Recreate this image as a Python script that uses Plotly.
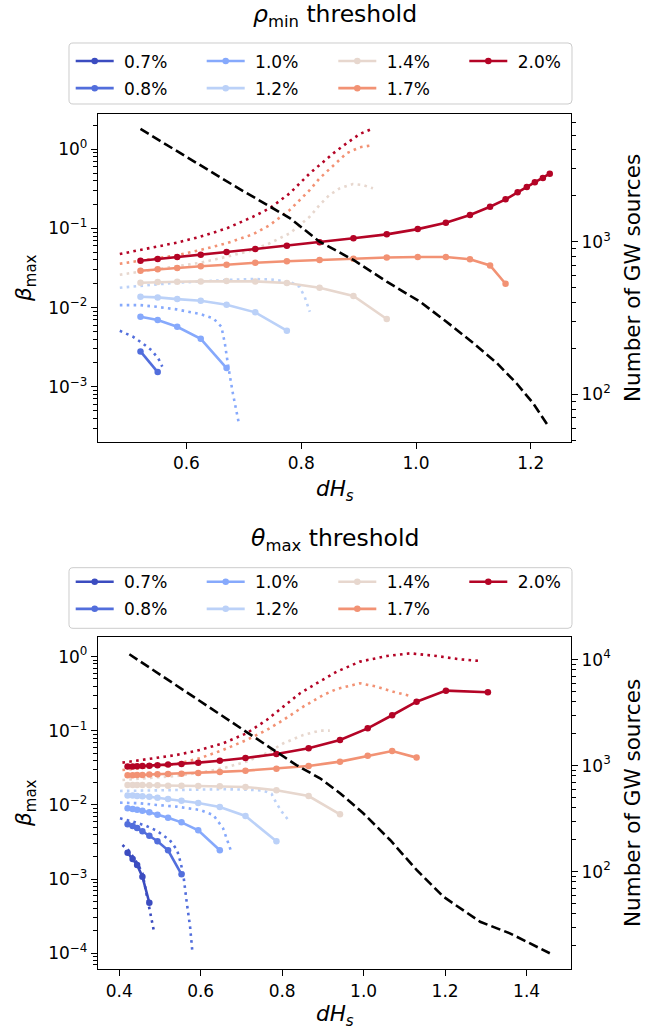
import plotly.graph_objects as go

# ---------------------------------------------------------------- data
THRESHOLDS = ["0.7%", "0.8%", "1.0%", "1.2%", "1.4%", "1.7%", "2.0%"]
# coolwarm sampled at (threshold - 0.7) / 1.3
COLORS = ["#3b4cc0", "#526edc", "#86a9fc", "#bbd1f8", "#e7d7ce", "#f29274", "#b40426"]

# --- rho_min threshold panel -------------------------------------------
rho_dh = [0.520, 0.550, 0.584, 0.625, 0.670, 0.720, 0.775, 0.832, 0.891, 0.949,
          1.003, 1.052, 1.094, 1.129, 1.156, 1.177, 1.193, 1.207, 1.221, 1.233]
rho_beta_07 = [None]
rho_beta_08 = [0.00279, 0.00153]
rho_beta_10 = [0.00765, 0.00695, 0.00572, 0.00403, 0.00172]
rho_beta_12 = [0.0137, 0.01345, 0.0128, 0.0122, 0.01084, 0.0087, 0.0051]
rho_beta_14 = [0.0206, 0.0210, 0.0212, 0.0214, 0.0216, 0.0214, 0.0204, 0.0178, 0.0140, 0.00716]
rho_beta_17 = [0.0292, 0.0304, 0.0316, 0.0332, 0.0348, 0.0369, 0.0384, 0.0398, 0.0414, 0.0430,
               0.0435, 0.0435, 0.0407, 0.0341, 0.0200]
rho_beta_20 = [0.0391, 0.0410, 0.0435, 0.0466, 0.0503, 0.0550, 0.0604, 0.0667, 0.0750, 0.0842,
               0.0980, 0.118, 0.148, 0.188, 0.233, 0.286, 0.334, 0.382, 0.434, 0.492]

# dotted curves
rho_cx_07, rho_cy_07 = [], []
rho_cx_08 = [0.484, 0.507, 0.524, 0.539, 0.551, 0.558]
rho_cy_08 = [0.00509, 0.00428, 0.00352, 0.00290, 0.00228, 0.00179]
rho_cx_10 = [0.484, 0.519, 0.548, 0.583, 0.624, 0.647, 0.661, 0.667, 0.673, 0.681, 0.692]
rho_cy_10 = [0.01075, 0.01075, 0.01023, 0.00948, 0.00828, 0.0073, 0.00572, 0.00352, 0.00179,
             0.00082, 0.000327]
rho_cx_12 = [0.484, 0.519, 0.548, 0.583, 0.624, 0.670, 0.716, 0.745, 0.780, 0.797, 0.806, 0.815]
rho_cy_12 = [0.0178, 0.0189, 0.0196, 0.0206, 0.0216, 0.0223, 0.0229, 0.0227, 0.0212, 0.0183,
             0.0137, 0.00885]
rho_cx_14 = [0.484, 0.519, 0.548, 0.583, 0.624, 0.670, 0.716, 0.745, 0.780, 0.815, 0.832, 0.849,
             0.867, 0.890, 0.907, 0.925]
rho_cy_14 = [0.0260, 0.0284, 0.0304, 0.0328, 0.0368, 0.0438, 0.0533, 0.0649, 0.0867, 0.141,
             0.198, 0.264, 0.321, 0.364, 0.354, 0.321]
rho_cx_17 = [0.484, 0.519, 0.548, 0.583, 0.624, 0.670, 0.716, 0.745, 0.780, 0.815, 0.832, 0.856,
             0.879, 0.902, 0.925]
rho_cy_17 = [0.0358, 0.0391, 0.0419, 0.0457, 0.0533, 0.0649, 0.0842, 0.110, 0.171, 0.306,
             0.430, 0.633, 0.890, 1.06, 1.13]
rho_cx_20 = [0.484, 0.519, 0.548, 0.583, 0.624, 0.670, 0.716, 0.745, 0.780, 0.815, 0.832, 0.856,
             0.879, 0.902, 0.923]
rho_cy_20 = [0.0475, 0.0533, 0.0587, 0.0660, 0.0785, 0.100, 0.1406, 0.1795, 0.278, 0.497,
             0.633, 0.890, 1.19, 1.56, 1.81]

# number of GW sources (right axis)
rho_nx = [0.520, 0.606, 0.693, 0.780, 0.832, 0.891, 0.949, 1.007, 1.053, 1.100, 1.141, 1.175,
          1.204, 1.231]
rho_nsrc = [5480, 3480, 2210, 1430, 1000, 759, 547, 404, 299, 216, 160, 118, 87.3, 61.4]

# --- theta_max threshold panel -----------------------------------------
theta_dh = [0.4206, 0.433, 0.444, 0.457, 0.474, 0.494, 0.520, 0.553, 0.594, 0.647,
            0.710, 0.786, 0.865, 0.942, 1.010, 1.070, 1.130, 1.202, 1.305]
theta_beta_07 = [0.00227, 0.00187, 0.00155, 0.00108, 0.00048]
theta_beta_08 = [0.00548, 0.00521, 0.00490, 0.00442, 0.00385, 0.00324, 0.00245, 0.00116]
theta_beta_10 = [0.00902, 0.00883, 0.00865, 0.00838, 0.00796, 0.00740, 0.00674, 0.00583,
                 0.00456, 0.00245]
theta_beta_12 = [0.0134, 0.0134, 0.0132, 0.0131, 0.0129, 0.01254, 0.01204, 0.01143, 0.01064,
                 0.0094, 0.0071, 0.00324]
theta_beta_14 = [0.0186, 0.0186, 0.0186, 0.0186, 0.0184, 0.0184, 0.0182, 0.0182, 0.0180,
                 0.0179, 0.0175, 0.0158, 0.0132, 0.00749]
theta_beta_17 = [0.0251, 0.0251, 0.0254, 0.0254, 0.0257, 0.0259, 0.0262, 0.0264, 0.0270,
                 0.0279, 0.0290, 0.0309, 0.0336, 0.0384, 0.0462, 0.0534, 0.0435]
theta_beta_20 = [0.0329, 0.0329, 0.0333, 0.0336, 0.0339, 0.0343, 0.0350, 0.0357, 0.0372,
                 0.0395, 0.0430, 0.0488, 0.0580, 0.0753, 0.108, 0.162, 0.247, 0.348, 0.331]

theta_cx_07 = [0.408, 0.422, 0.434, 0.447, 0.457, 0.463, 0.469, 0.475, 0.480, 0.485]
theta_cy_07 = [0.00289, 0.00247, 0.00201, 0.00155, 0.00120, 0.000834, 0.000581, 0.000384,
               0.000281, 0.000202]
theta_cx_08 = [0.402, 0.434, 0.467, 0.492, 0.524, 0.542, 0.549, 0.557, 0.565, 0.574, 0.580]
theta_cy_08 = [0.00662, 0.00596, 0.00521, 0.00450, 0.00337, 0.00247, 0.00181, 0.00120,
               0.000524, 0.000229, 0.000100]
theta_cx_10 = [0.402, 0.451, 0.492, 0.541, 0.598, 0.631, 0.655, 0.668, 0.676]
theta_cy_10 = [0.01074, 0.01054, 0.0100, 0.00949, 0.00857, 0.00733, 0.00485, 0.00305, 0.00227]
theta_cx_12 = [0.402, 0.451, 0.492, 0.541, 0.598, 0.655, 0.713, 0.754, 0.774, 0.786, 0.799, 0.815]
theta_cy_12 = [0.01545, 0.0156, 0.0158, 0.0159, 0.0163, 0.0163, 0.0161, 0.0156, 0.0141,
               0.01054, 0.00813, 0.00628]
theta_cx_14 = [0.408, 0.451, 0.492, 0.541, 0.598, 0.655, 0.713, 0.762, 0.803, 0.852, 0.893, 0.917]
theta_cy_14 = [0.0217, 0.0229, 0.0236, 0.0246, 0.0273, 0.0313, 0.0384, 0.0498, 0.0679,
               0.0879, 0.1005, 0.1005]
theta_cx_17 = [0.408, 0.451, 0.492, 0.541, 0.598, 0.655, 0.713, 0.762, 0.803, 0.852, 0.901,
               0.934, 0.991, 1.032, 1.073, 1.114]
theta_cy_17 = [0.0296, 0.0313, 0.0329, 0.0357, 0.0427, 0.0552, 0.0753, 0.1026, 0.140, 0.212,
               0.304, 0.366, 0.438, 0.394, 0.337, 0.295]
theta_cx_20 = [0.408, 0.451, 0.492, 0.541, 0.598, 0.655, 0.713, 0.762, 0.803, 0.844, 0.885,
               0.934, 0.991, 1.057, 1.114, 1.179, 1.236, 1.285]
theta_cy_20 = [0.0372, 0.0404, 0.0427, 0.0472, 0.0552, 0.0679, 0.0927, 0.140, 0.212, 0.321,
               0.438, 0.628, 0.857, 1.02, 1.11, 1.02, 0.922, 0.875]

theta_nx = [0.425, 0.492, 0.574, 0.655, 0.721, 0.786, 0.835, 0.893, 0.942, 0.999, 1.065,
            1.130, 1.196, 1.286, 1.359, 1.457]
theta_nsrc = [11250, 7590, 4700, 2910, 1970, 1350, 1013, 760, 550, 356, 199, 104, 58, 33.7,
              26.2, 17]

X_TICKS_TOP = [0.6, 0.8, 1.0, 1.2]
X_TICKS_BOTTOM = [0.4, 0.6, 0.8, 1.0, 1.2, 1.4]

# ---------------------------------------------------------------- style
FONT = "DejaVu Sans"
W, H = 667, 1029
ML, MR, MT, MB = 98, 96, 114, 60
PW, PH = W - ML - MR, H - MT - MB
LW = 2.6
DOT = "2.6px,4.3px"
DASH = "9.6px,4.2px"


def px_x(px):
    return (px - ML) / PW


def px_y(py):
    return (H - MB - py) / PH


def decade_label(e):
    return "10<sup>%s</sup>" % (str(e).replace("-", "\u2212"))


def minor_vals(lo, hi):
    return [m * 10.0 ** e for e in range(lo, hi) for m in range(2, 10)]


panels = [
    dict(xa="x", ya="y", ya2="y2",
         dh=rho_dh,
         beta=[rho_beta_07, rho_beta_08, rho_beta_10, rho_beta_12, rho_beta_14, rho_beta_17,
               rho_beta_20],
         cx=[rho_cx_07, rho_cx_08, rho_cx_10, rho_cx_12, rho_cx_14, rho_cx_17, rho_cx_20],
         cy=[rho_cy_07, rho_cy_08, rho_cy_10, rho_cy_12, rho_cy_14, rho_cy_17, rho_cy_20],
         nx=rho_nx, ns=rho_nsrc,
         legends=["legend", "legend2", "legend3", "legend4"]),
    dict(xa="x2", ya="y3", ya2="y4",
         dh=theta_dh,
         beta=[theta_beta_07, theta_beta_08, theta_beta_10, theta_beta_12, theta_beta_14,
               theta_beta_17, theta_beta_20],
         cx=[theta_cx_07, theta_cx_08, theta_cx_10, theta_cx_12, theta_cx_14, theta_cx_17,
             theta_cx_20],
         cy=[theta_cy_07, theta_cy_08, theta_cy_10, theta_cy_12, theta_cy_14, theta_cy_17,
             theta_cy_20],
         nx=theta_nx, ns=theta_nsrc,
         legends=["legend5", "legend6", "legend7", "legend8"]),
]

fig = go.Figure()

for p in panels:
    for i, label in enumerate(THRESHOLDS):
        fig.add_trace(go.Scatter(
            x=p["cx"][i], y=p["cy"][i], xaxis=p["xa"], yaxis=p["ya"], mode="lines",
            line=dict(color=COLORS[i], width=LW, dash=DOT), showlegend=False,
            hoverinfo="skip"))
    for i, label in enumerate(THRESHOLDS):
        ys = p["beta"][i]
        fig.add_trace(go.Scatter(
            x=p["dh"][:len(ys)], y=ys, xaxis=p["xa"], yaxis=p["ya"],
            mode="lines+markers", name="\u00a0" + label,
            line=dict(color=COLORS[i], width=LW), marker=dict(color=COLORS[i], size=6.5),
            legend=p["legends"][i // 2], legendgroup=p["legends"][i // 2] + label,
            showlegend=True))
    fig.add_trace(go.Scatter(
        x=p["nx"], y=p["ns"], xaxis=p["xa"], yaxis=p["ya2"], mode="lines",
        line=dict(color="black", width=LW, dash=DASH), showlegend=False))

axis_common = dict(showgrid=False, zeroline=False, showline=True, linecolor="black",
                   linewidth=1.3, ticks="outside", ticklen=6, tickwidth=1.3,
                   tickcolor="black", tickfont=dict(family=FONT, size=17, color="black"))
minor_common = dict(ticks="outside", ticklen=3.5, tickwidth=1.0, tickcolor="black",
                    showgrid=False)

top_dom = [px_y(441.7), 1.0]
bot_dom = [0.0, px_y(637.3)]

fig.update_layout(
    xaxis=dict(domain=[0, 1], anchor="y", range=[0.446, 1.270], tickvals=X_TICKS_TOP,
               ticktext=["%.1f" % v for v in X_TICKS_TOP], mirror=True, **axis_common),
    yaxis=dict(domain=top_dom, anchor="x", type="log", range=[-3.695, 0.446],
               tickvals=[10.0 ** e for e in range(-3, 1)],
               ticktext=[decade_label(e) for e in range(-3, 1)],
               minor=dict(tickvals=minor_vals(-4, 1), **minor_common), **axis_common),
    yaxis2=dict(overlaying="y", anchor="x", side="right", type="log", range=[1.689, 3.837],
                tickvals=[100, 1000], ticktext=[decade_label(2), decade_label(3)],
                minor=dict(tickvals=minor_vals(1, 4), **minor_common), **axis_common),
    xaxis2=dict(domain=[0, 1], anchor="y3", range=[0.348, 1.509], tickvals=X_TICKS_BOTTOM,
                ticktext=["%.1f" % v for v in X_TICKS_BOTTOM], mirror=True, **axis_common),
    yaxis3=dict(domain=bot_dom, anchor="x2", type="log", range=[-4.212, 0.261],
                tickvals=[10.0 ** e for e in range(-4, 1)],
                ticktext=[decade_label(e) for e in range(-4, 1)],
                minor=dict(tickvals=minor_vals(-5, 1), **minor_common), **axis_common),
    yaxis4=dict(overlaying="y3", anchor="x2", side="right", type="log", range=[1.082, 4.211],
                tickvals=[100, 1000, 10000],
                ticktext=[decade_label(2), decade_label(3), decade_label(4)],
                minor=dict(tickvals=minor_vals(1, 5), **minor_common), **axis_common),
)

# legends: one column each, framed by a shared rounded box
legend_cols_px = [70.7, 201.7, 333.3, 464.3]
legend_tops_px = [43.5, 564.2]
for k, (top, names) in enumerate(zip(legend_tops_px, [panels[0]["legends"], panels[1]["legends"]])):
    for name, left in zip(names, legend_cols_px):
        fig.update_layout({name: dict(
            xref="container", yref="container", x=left / W, y=1 - top / H,
            xanchor="left", yanchor="top", orientation="v", bgcolor="rgba(0,0,0,0)",
            borderwidth=0, itemwidth=38, tracegroupgap=2,
            font=dict(family=FONT, size=17, color="black"))})


def rounded_box(x0, y0, x1, y1, r=4):
    X0, X1 = px_x(x0), px_x(x1)
    Y0, Y1 = px_y(y0), px_y(y1)
    rx, ry = r / PW, r / PH
    return ("M%f,%f L%f,%f Q%f,%f %f,%f L%f,%f Q%f,%f %f,%f L%f,%f Q%f,%f %f,%f "
            "L%f,%f Q%f,%f %f,%f Z" % (
                X0 + rx, Y0, X1 - rx, Y0, X1, Y0, X1, Y0 - ry, X1, Y1 + ry, X1, Y1,
                X1 - rx, Y1, X0 + rx, Y1, X0, Y1, X0, Y1 + ry, X0, Y0 - ry, X0, Y0,
                X0 + rx, Y0))


for (y0, y1) in [(43, 104), (567.7, 628.3)]:
    fig.add_shape(type="path", xref="paper", yref="paper", path=rounded_box(69, y0, 572, y1),
                  line=dict(color="#cccccc", width=1), fillcolor="rgba(0,0,0,0)",
                  layer="below")

annotations = [
    (334.5, 16, "<i>ρ</i><sub>min</sub> threshold", 23.5, 0),
    (334.5, 539, "<i>θ</i><sub>max</sub> threshold", 23.5, 0),
    (25, 278, "<i>β</i><sub>max</sub>", 21.5, -90),
    (25, 803, "<i>β</i><sub>max</sub>", 21.5, -90),
    (632, 278, "Number of GW sources", 21.5, -90),
    (632, 803, "Number of GW sources", 21.5, -90),
    (335, 490, "<i>dH</i><sub><i>s</i></sub>", 21.5, 0),
    (335, 1015, "<i>dH</i><sub><i>s</i></sub>", 21.5, 0),
]
for x, y, text, size, angle in annotations:
    fig.add_annotation(xref="paper", yref="paper", x=px_x(x), y=px_y(y), text=text,
                       showarrow=False, textangle=angle, xanchor="center", yanchor="middle",
                       font=dict(family=FONT, size=size, color="black"))

fig.update_layout(width=W, height=H,
                  margin=dict(l=ML, r=MR, t=MT, b=MB, pad=0, autoexpand=False),
                  paper_bgcolor="white", plot_bgcolor="white",
                  font=dict(family=FONT, size=17, color="black"))

fig.write_html("out.html")
